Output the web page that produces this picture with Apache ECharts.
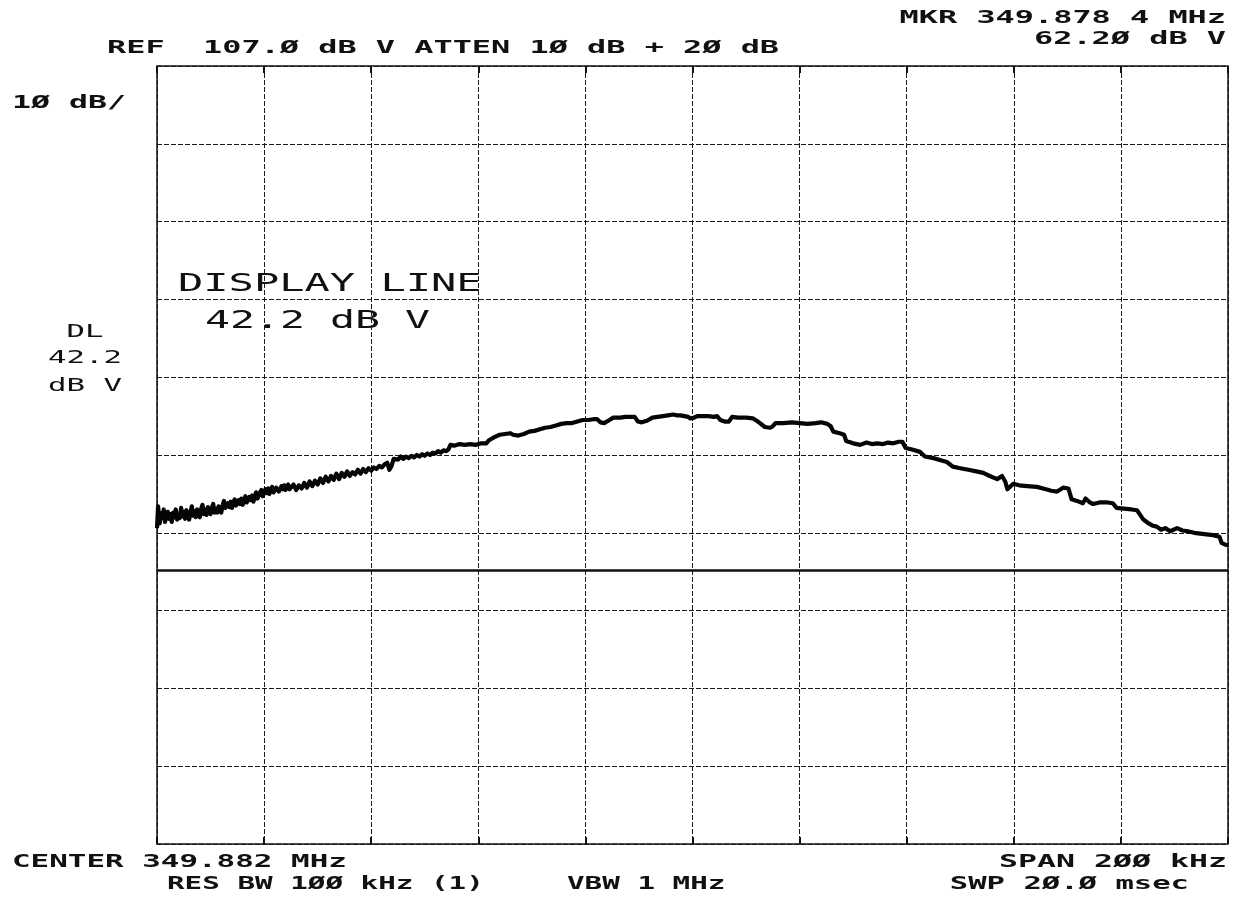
<!DOCTYPE html>
<html>
<head>
<meta charset="utf-8">
<script src="https://cdn.jsdelivr.net/npm/echarts@6/dist/echarts.min.js"></script>
<style>
  html, body { margin: 0; padding: 0; background: #fff; }
  #chart { width: 1241px; height: 909px; }
</style>
</head>
<body>
<div id="chart"></div>
<script>
// Spectrum analyzer trace: offset from center frequency (kHz) and level (dBV)
const freqKHz = [
  -100.0, -99.8, -99.5, -99.25, -99.0, -98.75, -98.5, -98.25, -98.0, -97.75,
  -97.5, -97.25, -97.0, -96.75, -96.5, -96.25, -96.0, -95.75, -95.5, -95.25,
  -95.0, -94.75, -94.5, -94.25, -94.0, -93.75, -93.5, -93.25, -93.0, -92.75,
  -92.5, -92.25, -92.0, -91.75, -91.5, -91.25, -91.0, -90.75, -90.5, -90.25,
  -90.0, -89.75, -89.5, -89.25, -89.0, -88.75, -88.5, -88.25, -88.0, -87.75,
  -87.5, -87.25, -87.0, -86.75, -86.5, -86.25, -86.0, -85.75, -85.5, -85.25,
  -85.0, -84.75, -84.5, -84.25, -84.0, -83.75, -83.5, -83.25, -83.0, -82.75,
  -82.5, -82.25, -82.0, -81.75, -81.5, -81.25, -81.0, -80.75, -80.5, -80.25,
  -80.0, -79.75, -79.5, -79.25, -79.0, -78.75, -78.5, -78.25, -78.0, -77.75,
  -77.5, -77.25, -77.0, -76.75, -76.5, -76.25, -76.0, -75.75, -75.5, -75.25,
  -75.0, -74.5, -74.0, -73.5, -73.0, -72.5, -72.0, -71.5, -71.0, -70.5,
  -70.0, -69.5, -69.0, -68.5, -68.0, -67.5, -67.0, -66.5, -66.0, -65.5,
  -65.0, -64.5, -64.0, -63.5, -63.0, -62.5, -62.0, -61.5, -61.0, -60.5,
  -60.0, -59.5, -59.0, -58.5, -58.0, -57.5, -57.0, -56.6, -56.2, -55.8,
  -55.0, -54.5, -54.0, -53.5, -53.0, -52.5, -52.0, -51.5, -51.0, -50.5,
  -50.0, -49.5, -49.0, -48.5, -48.0, -47.5, -47.0, -46.5, -46.0, -45.6,
  -45.2, -44.5, -43.5, -42.5, -41.5, -40.5, -39.5, -38.5, -38.0, -37.0,
  -36.0, -35.0, -34.0, -33.5, -32.5, -31.5, -30.5, -29.5, -28.5, -27.5,
  -26.5, -25.5, -24.5, -23.5, -22.5, -21.5, -20.5, -19.5, -18.5, -17.8,
  -17.2, -16.5, -15.5, -14.8, -13.5, -12.5, -11.5, -10.8, -10.2, -9.5,
  -8.5, -7.5, -6.5, -5.5, -4.6, -3.6, -3.0, -2.3, -1.5, -0.8,
  -0.4, 0.3, 0.9, 2.0, 3.0, 4.0, 4.6, 5.2, 6.0, 6.8,
  7.4, 8.5, 10.0, 11.3, 12.0, 12.6, 13.5, 14.5, 15.0, 15.5,
  17.0, 18.5, 20.0, 21.5, 23.0, 24.0, 25.2, 25.8, 26.3, 27.5,
  28.3, 28.7, 30.0, 31.3, 32.5, 33.5, 34.5, 35.6, 36.5, 37.5,
  38.5, 39.2, 39.8, 41.0, 42.5, 43.4, 45.0, 46.5, 47.5, 48.6,
  50.0, 51.5, 53.0, 54.3, 55.5, 56.9, 57.8, 58.4, 58.8, 59.9,
  61.0, 62.5, 64.3, 66.0, 67.0, 68.1, 69.2, 70.2, 70.8, 71.8,
  72.9, 73.4, 74.2, 74.8, 76.0, 77.5, 78.5, 79.2, 80.5, 82.0,
  83.0, 83.6, 84.2, 85.2, 86.0, 86.7, 87.5, 88.3, 89.2, 90.5,
  91.5, 92.5, 93.7, 94.8, 96.0, 97.2, 98.4, 98.8, 99.4, 100.0
];
const levelDbv = [
  47.6, 50.4, 48.2, 49.5, 48.9, 50.0, 48.4, 49.2, 49.7, 48.8,
  49.4, 48.4, 49.6, 49.0, 50.0, 48.7, 49.3, 48.9, 50.2, 49.1,
  49.7, 48.8, 49.9, 49.3, 48.7, 49.6, 50.4, 49.2, 49.8, 49.0,
  50.0, 49.5, 49.0, 50.1, 50.6, 49.4, 50.0, 49.3, 50.3, 49.7,
  49.4, 50.2, 50.7, 49.6, 50.1, 49.6, 50.4, 50.0, 49.6, 50.5,
  51.1, 50.2, 50.0, 50.8, 50.3, 51.0, 50.2, 50.9, 51.3, 50.5,
  50.4, 51.2, 50.7, 51.4, 50.6, 51.1, 51.7, 50.9, 51.0, 51.6,
  51.2, 51.8, 51.0, 51.6, 52.2, 51.4, 51.5, 52.2, 52.5, 51.7,
  51.9, 52.6, 52.1, 52.7, 52.0, 52.5, 52.9, 52.2, 52.1, 52.8,
  53.0, 52.3, 52.4, 53.0, 52.6, 53.1, 52.5, 52.9, 53.2, 52.6,
  52.5, 53.2, 52.5, 53.1, 52.7, 53.4, 52.8, 53.6, 53.0, 53.7,
  53.2, 54.0, 53.4, 54.2, 53.6, 54.3, 53.8, 54.6, 53.9, 54.7,
  54.2, 54.9, 54.3, 54.8, 54.5, 55.1, 54.6, 55.2, 54.8, 55.3,
  55.0, 55.4, 55.2, 55.6, 55.4, 55.8, 56.0, 55.1, 55.6, 56.5,
  56.4, 56.8, 56.5, 56.8, 56.6, 56.9, 56.7, 57.0, 56.8, 57.1,
  56.9, 57.2, 57.0, 57.3, 57.2, 57.5, 57.3, 57.6, 57.5, 57.7,
  58.3, 58.2, 58.4, 58.3, 58.4, 58.3, 58.5, 58.5, 58.9, 59.3,
  59.6, 59.7, 59.8, 59.6, 59.5, 59.7, 60.0, 60.1, 60.3, 60.5,
  60.6, 60.8, 61.0, 61.1, 61.1, 61.3, 61.5, 61.5, 61.6, 61.6,
  61.2, 61.1, 61.5, 61.8, 61.8, 61.9, 61.9, 61.9, 61.3, 61.2,
  61.4, 61.8, 61.9, 62.0, 62.1, 62.2, 62.1, 62.1, 62.0, 61.9,
  61.7, 61.8, 62.0, 62.0, 62.0, 61.9, 62.0, 61.5, 61.3, 61.3,
  61.9, 61.8, 61.8, 61.7, 61.4, 61.1, 60.6, 60.5, 60.7, 61.1,
  61.1, 61.2, 61.1, 61.0, 61.1, 61.2, 61.0, 60.7, 60.0, 59.8,
  59.6, 58.8, 58.5, 58.3, 58.6, 58.4, 58.5, 58.4, 58.6, 58.5,
  58.7, 58.7, 57.9, 57.7, 57.4, 56.8, 56.6, 56.3, 56.1, 55.5,
  55.3, 55.1, 54.9, 54.7, 54.3, 53.9, 54.3, 53.6, 52.6, 53.3,
  53.1, 53.0, 52.9, 52.6, 52.4, 52.3, 52.8, 52.7, 51.3, 51.1,
  50.8, 51.4, 50.9, 50.7, 50.9, 50.9, 50.8, 50.2, 50.1, 50.0,
  49.9, 49.3, 48.7, 48.2, 47.9, 47.8, 47.4, 47.6, 47.2, 47.6,
  47.3, 47.2, 47.0, 46.9, 46.8, 46.7, 46.5, 45.7, 45.5, 45.4
];

// Screen scale settings
const refLevel = 107.0;      // dBV at the top graticule line
const dbPerDiv = 10;
const divisions = 10;
const displayLine = 42.2;    // dBV
const spanKHz = 200;
const xTickKHz = 20;

// Annotation strings
const headerText = 'REF  107.Ø dB V ATTEN 1Ø dB + 2Ø dB';
const markerFreqText = 'MKR 349.878 4 MHz';
const markerLevelText = '62.2Ø dB V';
const scaleText = '1Ø dB/';
const dlLines = ['DL', '42.2', 'dB V'];
const dlTitle = 'DISPLAY LINE';
const dlValue = '42.2 dB V';
const centerText = 'CENTER 349.882 MHz';
const resBwText = 'RES BW 1ØØ kHz (1)';
const vbwText = 'VBW 1 MHz';
const spanText = 'SPAN 2ØØ kHz';
const sweepText = 'SWP 2Ø.Ø msec';

const trace = freqKHz.map((f, i) => [f, levelDbv[i]]);

const MONO = 'DejaVu Sans Mono';
// Plotter-style lettering: monospace text stretched to a wide character pitch
function plotText(text, x, y, align, size, pitch, weight) {
  return {
    type: 'text',
    x: x, y: y,
    scaleX: pitch / (0.602 * size),
    silent: true,
    style: {
      text: text,
      font: (weight || 'bold') + ' ' + size + 'px "' + MONO + '"',
      fill: '#111',
      textAlign: align,
      textVerticalAlign: 'middle'
    }
  };
}

const gridLine = { color: '#1a1a1a', width: 1, type: [5, 2] };

const chart = echarts.init(document.getElementById('chart'), null, { renderer: 'canvas' });
chart.setOption({
  animation: false,
  backgroundColor: '#fff',
  grid: {
    left: 157, top: 66, width: 1071, height: 778,
    show: true, borderColor: '#111', borderWidth: 1.5, backgroundColor: 'transparent'
  },
  xAxis: [
    {
      type: 'value', min: -spanKHz / 2, max: spanKHz / 2, interval: xTickKHz,
      position: 'bottom',
      axisLine: { show: false },
      axisTick: { show: true, inside: true, length: 7, lineStyle: { color: '#111', width: 2 } },
      axisLabel: { show: false },
      splitLine: { show: true, lineStyle: gridLine }
    },
    {
      type: 'value', min: -spanKHz / 2, max: spanKHz / 2, interval: xTickKHz,
      position: 'top',
      axisLine: { show: false },
      axisTick: { show: true, inside: true, length: 7, lineStyle: { color: '#111', width: 2 } },
      axisLabel: { show: false },
      splitLine: { show: false }
    }
  ],
  yAxis: [
    {
      // level scale in dBV for the trace
      type: 'value', min: refLevel - dbPerDiv * divisions, max: refLevel,
      show: false,
      splitLine: { show: false }
    },
    {
      // graticule divisions
      type: 'value', min: 0, max: divisions, interval: 1,
      axisLine: { show: false },
      axisTick: { show: false },
      axisLabel: { show: false },
      splitLine: { show: true, lineStyle: gridLine }
    }
  ],
  series: [
    {
      type: 'line',
      xAxisIndex: 0,
      yAxisIndex: 0,
      data: trace,
      showSymbol: false,
      symbol: 'none',
      lineStyle: { color: '#050505', width: 4.2, join: 'round' },
      markLine: {
        silent: true,
        symbol: 'none',
        label: { show: false },
        lineStyle: { color: '#111', width: 2.6, type: 'solid' },
        data: [{ yAxis: displayLine }]
      }
    }
  ],
  graphic: [
    plotText(headerText, 107, 48, 'left', 18, 19.2),
    plotText(markerFreqText, 1226, 18, 'right', 18, 19.2),
    plotText(markerLevelText, 1226, 39, 'right', 18, 19.2),
    plotText(scaleText, 12, 103, 'left', 18, 19.0),
    plotText(dlLines[0], 85, 332, 'center', 18, 18.5, 'normal'),
    plotText(dlLines[1], 85, 358, 'center', 18, 18.5, 'normal'),
    plotText(dlLines[2], 85, 386, 'center', 18, 18.5, 'normal'),
    plotText(dlTitle, 178, 285, 'left', 24, 25.3, 'normal'),
    plotText(dlValue, 205, 322, 'left', 24, 25.0, 'normal'),
    plotText(centerText, 12, 862, 'left', 18, 18.6),
    plotText(resBwText, 167, 884, 'left', 18, 17.6),
    plotText(vbwText, 567, 884, 'left', 18, 17.6),
    plotText(spanText, 1227, 862, 'right', 18, 19.0),
    plotText(sweepText, 1189, 884, 'right', 18, 18.4)
  ]
});
</script>
</body>
</html>
